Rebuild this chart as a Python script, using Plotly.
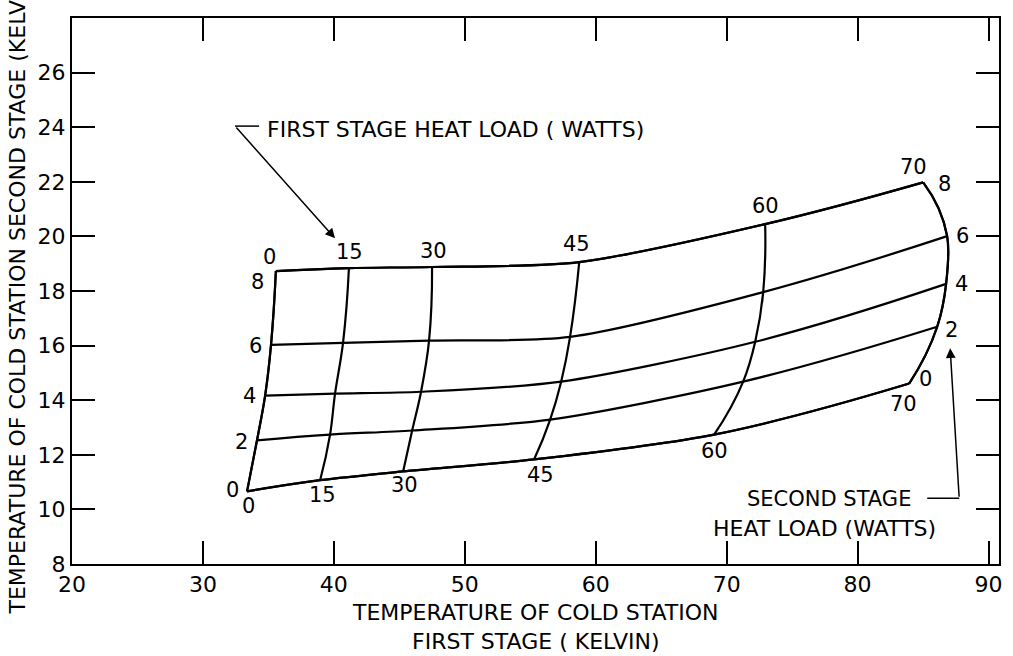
import plotly.graph_objects as go

# heat loads (watts) on the two stages
first_stage_load = [0, 15, 30, 45, 60, 70]
second_stage_load = [0, 2, 4, 6, 8]

# node temperatures (kelvin), one row per second stage load, one column per first stage load
first_stage_temp = [
    [33.37, 38.95, 45.29, 55.29, 69.04, 83.94],
    [34.13, 39.71, 45.98, 56.52, 71.26, 86.08],
    [34.75, 40.09, 46.66, 57.36, 72.18, 86.76],
    [35.20, 40.70, 47.27, 58.04, 72.79, 86.84],
    [35.57, 41.15, 47.50, 58.74, 72.94, 85.01],
]
second_stage_temp = [
    [10.66, 11.07, 11.39, 11.83, 12.74, 14.61],
    [12.53, 12.74, 12.89, 13.29, 14.68, 16.69],
    [14.17, 14.24, 14.31, 14.68, 16.14, 18.26],
    [16.03, 16.10, 16.18, 16.32, 17.96, 20.01],
    [18.73, 18.84, 18.88, 19.06, 20.45, 21.98],
]

x_ticks = [20, 30, 40, 50, 60, 70, 80, 90]
y_ticks = [8, 10, 12, 14, 16, 18, 20, 22, 24, 26]

FONT = "DejaVu Sans"
ink = "black"

fig = go.Figure()

grid_axis = dict(
    tickmode="array",
    showticklabels="none",
    showgrid=True,
    gridcolor=ink,
    gridwidth=2.2,
    minorgridcount=0,
    startline=True,
    endline=True,
    startlinecolor=ink,
    endlinecolor=ink,
    startlinewidth=2.2,
    endlinewidth=2.2,
)
fig.add_trace(go.Carpet(
    a=first_stage_load,
    b=second_stage_load,
    x=first_stage_temp,
    y=second_stage_temp,
    aaxis=dict(grid_axis, tickvals=first_stage_load, smoothing=0.8),
    baxis=dict(grid_axis, tickvals=second_stage_load, smoothing=1),
))

# label offsets in pixels from the grid nodes
top_shift = [(-6, 14), (1, 16), (1, 16), (-3, 18), (0, 18), (-10, 15)]
bottom_shift = [(1, -15), (2, -15), (1, -14), (6, -16), (0, -16), (-6, -20)]
left_shift = [(-15, 1), (-16, -2), (-16, 0), (-16, -1), (-18, -11)]
right_shift = [(16, 5), (14, -3), (15, 0), (15, 0), (21, -2)]

label_font = dict(family=FONT, size=21, color=ink)
notes = []
last_b = len(second_stage_load) - 1
last_a = len(first_stage_load) - 1
for j, a in enumerate(first_stage_load):
    notes.append(dict(x=first_stage_temp[last_b][j], y=second_stage_temp[last_b][j],
                      text=str(a), xshift=top_shift[j][0], yshift=top_shift[j][1]))
    notes.append(dict(x=first_stage_temp[0][j], y=second_stage_temp[0][j],
                      text=str(a), xshift=bottom_shift[j][0], yshift=bottom_shift[j][1]))
for i, b in enumerate(second_stage_load):
    notes.append(dict(x=first_stage_temp[i][0], y=second_stage_temp[i][0],
                      text=str(b), xshift=left_shift[i][0], yshift=left_shift[i][1]))
    notes.append(dict(x=first_stage_temp[i][last_a], y=second_stage_temp[i][last_a],
                      text=str(b), xshift=right_shift[i][0], yshift=right_shift[i][1]))
for n in notes:
    fig.add_annotation(showarrow=False, font=label_font, **n)

# callouts
first_tail = (32.45, 24.04)
first_knee = (34.29, 24.04)
first_tip = (40.09, 19.93)
second_knee = (85.32, 10.41)
second_tail = (87.76, 10.41)
second_tip = (87.07, 15.9)

for p, q in [(first_tail, first_knee), (second_knee, second_tail)]:
    fig.add_shape(type="line", x0=p[0], y0=p[1], x1=q[0], y1=q[1],
                  line=dict(color=ink, width=1.5))
for tail, tip in [(first_tail, first_tip), (second_tail, second_tip)]:
    fig.add_annotation(x=tip[0], y=tip[1], ax=tail[0], ay=tail[1], axref="x", ayref="y",
                       text="", showarrow=True, arrowhead=2, arrowsize=1.3,
                       arrowwidth=1.5, arrowcolor=ink)

fig.add_annotation(x=34.74, y=23.9, text="FIRST STAGE HEAT LOAD ( WATTS)", xanchor="left",
                   showarrow=False, font=dict(family=FONT, size=22, color=ink))
fig.add_annotation(x=84.25, y=10.38, text="SECOND STAGE", xanchor="right",
                   showarrow=False, font=dict(family=FONT, size=21, color=ink))
fig.add_annotation(x=86.16, y=9.3, text="HEAT LOAD (WATTS)", xanchor="right",
                   showarrow=False, font=dict(family=FONT, size=22, color=ink))

axis_common = dict(
    showline=True, linecolor=ink, linewidth=2, mirror="ticks",
    ticks="inside", ticklen=23, tickwidth=2, tickcolor=ink,
    showgrid=False, zeroline=False, automargin=False,
    tickfont=dict(family=FONT, size=22, color=ink),
)
title_font = dict(family=FONT, size=22, color=ink)
fig.update_xaxes(axis_common, range=[20, 90.8], tickvals=x_ticks)
fig.update_yaxes(axis_common, range=[8, 28], tickvals=y_ticks,
                 title=dict(text="TEMPERATURE OF COLD STATION SECOND STAGE (KELVIN)",
                            font=title_font, standoff=6))

# x axis title as a two line note below the plot
fig.add_annotation(xref="paper", yref="paper", x=0.5, y=-0.1145, yanchor="middle",
                   text="TEMPERATURE OF COLD STATION<br>FIRST STAGE ( KELVIN)",
                   showarrow=False, font=title_font)

fig.update_layout(
    width=1013, height=656,
    margin=dict(l=72, r=14, t=18, b=92),
    paper_bgcolor="white", plot_bgcolor="white",
    showlegend=False,
)

# drop the default page margin so the figure fills the window
fig.write_html("out.html", config={"displayModeBar": False},
               post_script="document.body.style.margin = '0';")
